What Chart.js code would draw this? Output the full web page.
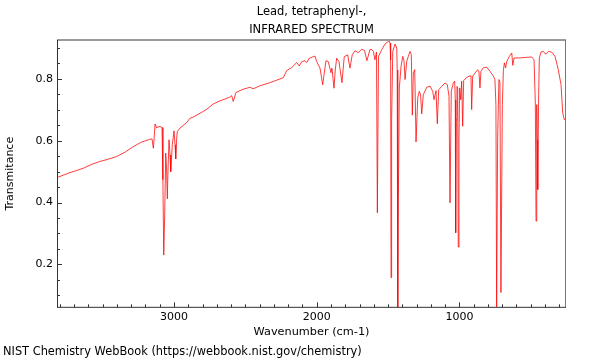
<!DOCTYPE html>
<html><head><meta charset="utf-8">
<script src="https://cdn.jsdelivr.net/npm/chart.js@4"></script>
<style>html,body{margin:0;padding:0;background:#fff}</style>
</head><body>
<canvas id="c" width="600" height="360" style="width:600px;height:360px;display:block"></canvas>
<script>
const titleLines = ['Lead, tetraphenyl-,', 'INFRARED SPECTRUM'];
const xAxisLabel = 'Wavenumber (cm-1)';
const yAxisLabel = 'Transmitance';
const footerText = 'NIST Chemistry WebBook (https://webbook.nist.gov/chemistry)';
const xTickValues = [1000, 2000, 3000];
const yTickValues = [0.2, 0.4, 0.6, 0.8];

const wavenumbers = [
3820,3785,3729,3687,3636,3575,3519,3463,3402,3343,3285,3231,3168,3154,3145,3140,3133,3121,3112,3098,
3084,3078,3072,3066,3058,3052,3047,3042,3035,3028,3023,3018,3012,3000,2993,2988,2982,2977,2958,2911,
2888,2867,2818,2776,2725,2678,2608,2596,2585,2566,2514,2467,2446,2397,2327,2234,2210,2175,2140,2122,
2105,2082,2070,2052,2012,2000,1977,1958,1949,1935,1919,1900,1893,1879,1870,1860,1844,1823,1807,1783,
1767,1751,1732,1709,1685,1665,1648,1627,1613,1603,1592,1581,1575,1567,1544,1521,1493,1486,1482,1479,
1475,1467,1451,1439,1436,1432,1428,1421,1409,1397,1388,1381,1369,1358,1346,1337,1330,1323,1313,1304,
1292,1281,1272,1264,1253,1229,1206,1187,1178,1164,1155,1145,1124,1101,1085,1073,1066,1057,1043,1033,
1029,1026,1022,1017,1012,1008,1003,998,991,984,977,970,949,931,919,914,907,891,872,863,
856,849,833,809,786,762,751,744,739,732,723,716,709,699,692,685,676,669,650,633,
626,617,575,528,493,477,468,463,458,454,451,445,440,428,412,395,377,353,330,307,
288,276,265,253
];
const transmittance = [
0.481,0.487,0.497,0.503,0.511,0.524,0.533,0.540,0.549,0.563,0.581,0.595,0.605,0.606,0.576,0.603,0.654,0.641,0.645,0.646,
0.643,0.474,0.230,0.344,0.560,0.506,0.412,0.506,0.603,0.554,0.500,0.538,0.587,0.632,0.587,0.541,0.603,0.630,0.641,0.659,
0.673,0.676,0.689,0.700,0.719,0.729,0.741,0.746,0.727,0.756,0.767,0.773,0.768,0.778,0.788,0.804,0.827,0.837,0.853,0.842,
0.856,0.859,0.853,0.867,0.874,0.856,0.835,0.781,0.813,0.859,0.856,0.820,0.835,0.770,0.829,0.867,0.856,0.788,0.872,0.878,
0.835,0.878,0.891,0.885,0.896,0.892,0.859,0.895,0.895,0.889,0.862,0.887,0.367,0.873,0.895,0.913,0.924,0.916,0.861,0.157,
0.668,0.889,0.913,0.900,0.829,0.062,0.409,0.771,0.841,0.873,0.857,0.798,0.857,0.873,0.889,0.879,0.683,0.819,0.830,0.596,
0.739,0.760,0.748,0.687,0.749,0.773,0.777,0.760,0.733,0.762,0.655,0.765,0.776,0.787,0.782,0.744,0.399,0.760,0.787,0.793,
0.732,0.302,0.668,0.776,0.771,0.256,0.603,0.771,0.733,0.793,0.647,0.795,0.805,0.809,0.810,0.701,0.809,0.819,0.830,0.823,
0.771,0.825,0.836,0.838,0.825,0.809,0.798,0.717,0.062,0.609,0.798,0.790,0.109,0.717,0.825,0.852,0.836,0.855,0.873,0.884,
0.844,0.868,0.868,0.870,0.871,0.862,0.722,0.340,0.717,0.603,0.442,0.732,0.868,0.887,0.889,0.880,0.889,0.887,0.873,0.830,
0.782,0.690,0.668,0.674
];

Chart.defaults.font.family = "'DejaVu Sans', sans-serif";
Chart.defaults.color = '#000';

const axisDecor = {
  id: 'axisDecor',
  afterDraw(chart) {
    const {ctx, chartArea: a, scales: {x, y}} = chart;
    ctx.save();
    ctx.strokeStyle = '#333';
    ctx.lineWidth = 1;
    ctx.beginPath();
    for (let v = Math.ceil(x.min / 100) * 100; v <= x.max; v += 100) {
      const px = Math.round(x.getPixelForValue(v)) + 0.5;
      const len = v % 1000 === 0 ? 5 : 3;
      ctx.moveTo(px, a.bottom); ctx.lineTo(px, a.bottom - len);
    }
    for (let k = Math.ceil(y.min / 0.05); k * 0.05 <= y.max + 1e-9; k++) {
      const py = Math.round(y.getPixelForValue(k * 0.05)) + 0.5;
      const len = k % 4 === 0 ? 5 : 3;
      ctx.moveTo(a.left, py); ctx.lineTo(a.left + len, py);
    }
    ctx.stroke();
    // frame
    ctx.strokeStyle = '#9a9a9a';
    ctx.lineWidth = 2;
    ctx.beginPath(); ctx.moveTo(a.left, a.top); ctx.lineTo(a.right, a.top); ctx.stroke();
    ctx.strokeStyle = '#777';
    ctx.lineWidth = 1;
    ctx.beginPath(); ctx.moveTo(a.right - 0.5, a.top); ctx.lineTo(a.right - 0.5, a.bottom); ctx.stroke();
    ctx.strokeStyle = '#333';
    ctx.beginPath();
    ctx.moveTo(a.left + 0.5, a.top); ctx.lineTo(a.left + 0.5, a.bottom);
    ctx.moveTo(a.left, a.bottom); ctx.lineTo(a.right, a.bottom);
    ctx.stroke();
    ctx.restore();
  }
};

new Chart(document.getElementById('c'), {
  type: 'line',
  data: {
    datasets: [{
      data: wavenumbers.map((w, i) => ({x: w, y: transmittance[i]})),
      borderColor: 'rgba(255,0,0,0.85)',
      borderWidth: 0.9,
      pointRadius: 0,
      tension: 0,
      fill: false
    }]
  },
  options: {
    responsive: false,
    animation: false,
    devicePixelRatio: 1,
    layout: {padding: {left: 3, right: 34, top: 0, bottom: 0}},
    plugins: {
      legend: {display: false},
      tooltip: {enabled: false},
      title: {
        display: true, fullSize: false, text: titleLines, color: '#000',
        font: {size: 11.5, weight: 'normal', lineHeight: 18 / 11.5},
        padding: {top: 3, bottom: 1}
      },
      subtitle: {
        display: true, position: 'bottom', align: 'start', text: footerText, color: '#000',
        font: {size: 11.4, weight: 'normal', lineHeight: 1.2},
        padding: {top: 0, bottom: 1}
      }
    },
    scales: {
      x: {
        type: 'linear', reverse: true, min: 253, max: 3820,
        afterBuildTicks: s => { s.ticks = xTickValues.map(v => ({value: v})); },
        afterFit: s => { s.height = 38; },
        grid: {display: false, drawTicks: false},
        border: {display: false},
        ticks: {color: '#000', font: {size: 11}, padding: 3, maxRotation: 0, autoSkip: false, callback: v => String(v)},
        title: {display: true, text: xAxisLabel, color: '#000', font: {size: 11.3}, padding: {top: 0, bottom: 6}}
      },
      y: {
        type: 'linear', min: 0.061, max: 0.926,
        afterBuildTicks: s => { s.ticks = yTickValues.map(v => ({value: v})); },
        afterFit: s => { s.width = 54; },
        grid: {display: false, drawTicks: false},
        border: {display: false},
        ticks: {color: '#000', font: {size: 11}, padding: 4, callback: v => v.toFixed(1)},
        title: {display: true, text: yAxisLabel, color: '#000', font: {size: 11}, padding: {top: 1, bottom: 0}}
      }
    }
  },
  plugins: [axisDecor]
});
</script>
</body></html>
